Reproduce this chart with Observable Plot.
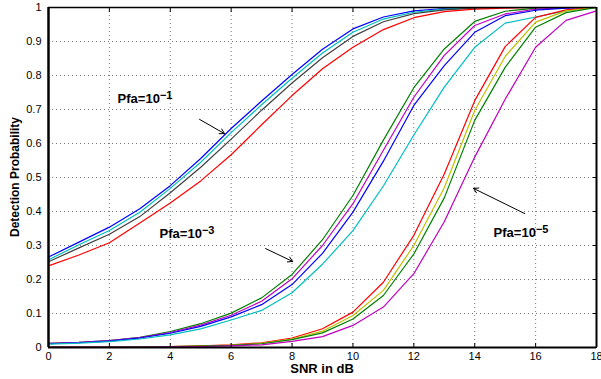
<!DOCTYPE html>
<html><head><meta charset="utf-8">
<script src="https://cdn.jsdelivr.net/npm/d3@7"></script>
<script src="https://cdn.jsdelivr.net/npm/@observablehq/plot@0.6"></script>
<style>
html,body{margin:0;padding:0;background:#fff;}
#chart svg{display:block;}
</style>
</head><body><div id="chart"></div>
<script>
// SNR values (dB)
const snr = [0,1,2,3,4,5,6,7,8,9,10,11,12,13,14,15,16,17,18];

// Pfa = 10^-1 group
const pfa1Blue  = [0.266,0.310,0.354,0.408,0.476,0.556,0.644,0.725,0.803,0.877,0.937,0.972,0.990,0.997,1,1,1,1,1];
const pfa1Cyan  = [0.258,0.302,0.344,0.398,0.468,0.545,0.632,0.714,0.792,0.866,0.927,0.966,0.986,0.995,0.999,1,1,1,1];
const pfa1Gray  = [0.252,0.293,0.333,0.385,0.455,0.530,0.613,0.698,0.778,0.852,0.915,0.958,0.982,0.993,0.998,1,1,1,1];
const pfa1Red   = [0.240,0.272,0.308,0.366,0.425,0.490,0.567,0.655,0.741,0.820,0.883,0.935,0.970,0.988,0.995,0.998,1,1,1];

// Pfa = 10^-3 group
const pfa3Green   = [0.012,0.015,0.020,0.030,0.047,0.070,0.101,0.146,0.215,0.317,0.447,0.610,0.764,0.878,0.959,0.989,0.998,1,1];
const pfa3Magenta = [0.012,0.015,0.020,0.029,0.044,0.066,0.095,0.136,0.202,0.300,0.423,0.580,0.736,0.859,0.947,0.981,0.995,0.999,1];
const pfa3Blue    = [0.011,0.014,0.019,0.028,0.042,0.062,0.090,0.126,0.185,0.277,0.398,0.548,0.712,0.829,0.927,0.976,0.992,0.998,1];
const pfa3Cyan    = [0.010,0.013,0.017,0.025,0.037,0.055,0.081,0.109,0.161,0.245,0.344,0.475,0.625,0.766,0.883,0.954,0.972,0.990,1];

// Pfa = 10^-5 group
const pfa5Red     = [0.001,0.001,0.001,0.002,0.003,0.005,0.008,0.014,0.028,0.055,0.104,0.192,0.330,0.510,0.726,0.885,0.971,0.993,1];
const pfa5Yellow  = [0.001,0.001,0.001,0.002,0.003,0.004,0.007,0.012,0.025,0.048,0.094,0.168,0.300,0.470,0.697,0.856,0.957,0.990,1];
const pfa5Green   = [0.001,0.001,0.001,0.002,0.003,0.004,0.006,0.011,0.023,0.043,0.084,0.153,0.275,0.440,0.668,0.824,0.942,0.985,1];
const pfa5Magenta = [0.001,0.001,0.001,0.001,0.002,0.003,0.005,0.008,0.018,0.032,0.065,0.119,0.217,0.370,0.560,0.730,0.883,0.962,0.990];

// tick values
const xTicks = [0,2,4,6,8,10,12,14,16,18];
const yTicks = [0,0.1,0.2,0.3,0.4,0.5,0.6,0.7,0.8,0.9,1];

// annotation labels
const annotLabels = ["Pfa=10^−1","Pfa=10^−3","Pfa=10^−5"];

// ---- styling / placement (not data) ----
const seriesList = [
  [pfa1Blue,"#0000ff"],[pfa1Cyan,"#00bfbf"],[pfa1Gray,"#404040"],[pfa1Red,"#ff0000"],
  [pfa3Green,"#008000"],[pfa3Magenta,"#bf00bf"],[pfa3Blue,"#0000ff"],[pfa3Cyan,"#00bfbf"],
  [pfa5Red,"#ff0000"],[pfa5Yellow,"#bfbf00"],[pfa5Green,"#008000"],[pfa5Magenta,"#bf00bf"]
];
const annotPos = [{x:2.27,y:0.718},{x:3.65,y:0.322},{x:14.62,y:0.324}];
const arrowPos = [
  {x1:4.96,y1:0.671,x2:5.78,y2:0.629},
  {x1:7.13,y1:0.291,x2:8.02,y2:0.253},
  {x1:15.64,y1:0.394,x2:13.96,y2:0.468}
];
const annots = annotLabels.map((t,i)=>({label:t, ...annotPos[i]}));

const lineMarks = seriesList.map(([vals,color]) =>
  Plot.line(snr.map((s,i)=>({snr:s, pd:vals[i]})), {x:"snr", y:"pd", stroke:color, strokeWidth:1.2})
);

const font = "'Liberation Sans', Arial, Helvetica, sans-serif";

const plot = Plot.plot({
  width: 601,
  height: 379,
  marginLeft: 48,
  marginRight: 5,
  marginTop: 7,
  marginBottom: 32,
  style: {fontFamily: font, fontSize: "11px", background: "#fff", color: "#000"},
  x: {domain: [0,18]},
  y: {domain: [0,1]},
  marks: [
    Plot.ruleX(xTicks.slice(1,-1), {stroke:"#777", strokeDasharray:"1,3", strokeWidth:1}),
    Plot.ruleY(yTicks.slice(1,-1), {stroke:"#777", strokeDasharray:"1,3", strokeWidth:1}),
    ...lineMarks,
    Plot.axisX({ticks: xTicks, anchor:"bottom", tickSize:0, tickPadding:5, label:null, fontSize:11}),
    Plot.axisY({ticks: yTicks, anchor:"left", tickSize:0, tickPadding:7, label:null, fontSize:11, tickFormat: d => String(+d.toFixed(1))}),
    Plot.axisX({ticks: xTicks, anchor:"bottom", tickSize:-4, tickFormat: () => "", label:null}),
    Plot.axisX({ticks: xTicks, anchor:"top", tickSize:-4, tickFormat: () => "", label:null}),
    Plot.axisY({ticks: yTicks, anchor:"right", tickSize:-4, tickFormat: () => "", label:null}),
    Plot.ruleX([0], {stroke:"#000", strokeWidth:2.5}),
    Plot.ruleX([18], {stroke:"#000", strokeWidth:2}),
    Plot.ruleY([0], {stroke:"#000", strokeWidth:2}),
    Plot.ruleY([1], {stroke:"#000", strokeWidth:1.3}),
    Plot.arrow(arrowPos, {x1:"x1", y1:"y1", x2:"x2", y2:"y2", stroke:"#000", strokeWidth:1, headLength:8}),
    Plot.text(annots, {x:"x", y:"y", text:"label", textAnchor:"start", lineAnchor:"bottom", fontWeight:"bold", fontSize:13, fill:"#000"})
  ]
});

// superscripts
d3.select(plot).selectAll("text").each(function(){
  const t = this.textContent;
  if (t.startsWith("Pfa=10^")) {
    const [base, exp] = t.split("^");
    this.textContent = base;
    d3.select(this).append("tspan").attr("dy", -4).attr("font-size", 11).text(exp);
  }
});

// axis titles
const svg = d3.select(plot);
const xs = plot.scale("x"), ys = plot.scale("y");
const xc = (xs.range[0] + xs.range[1]) / 2;
const yc = (ys.range[0] + ys.range[1]) / 2;
svg.append("text")
  .attr("x", xc).attr("y", 373)
  .attr("text-anchor", "middle")
  .attr("font-weight", "bold").attr("font-size", 13).attr("font-family", font)
  .attr("fill", "#000")
  .text("SNR in dB");
svg.append("text")
  .attr("transform", `translate(18.5,${yc}) rotate(-90)`)
  .attr("text-anchor", "middle")
  .attr("font-weight", "bold").attr("font-size", 12).attr("font-family", font)
  .attr("fill", "#000")
  .text("Detection Probability");

document.getElementById("chart").appendChild(plot);
</script>
</body></html>
